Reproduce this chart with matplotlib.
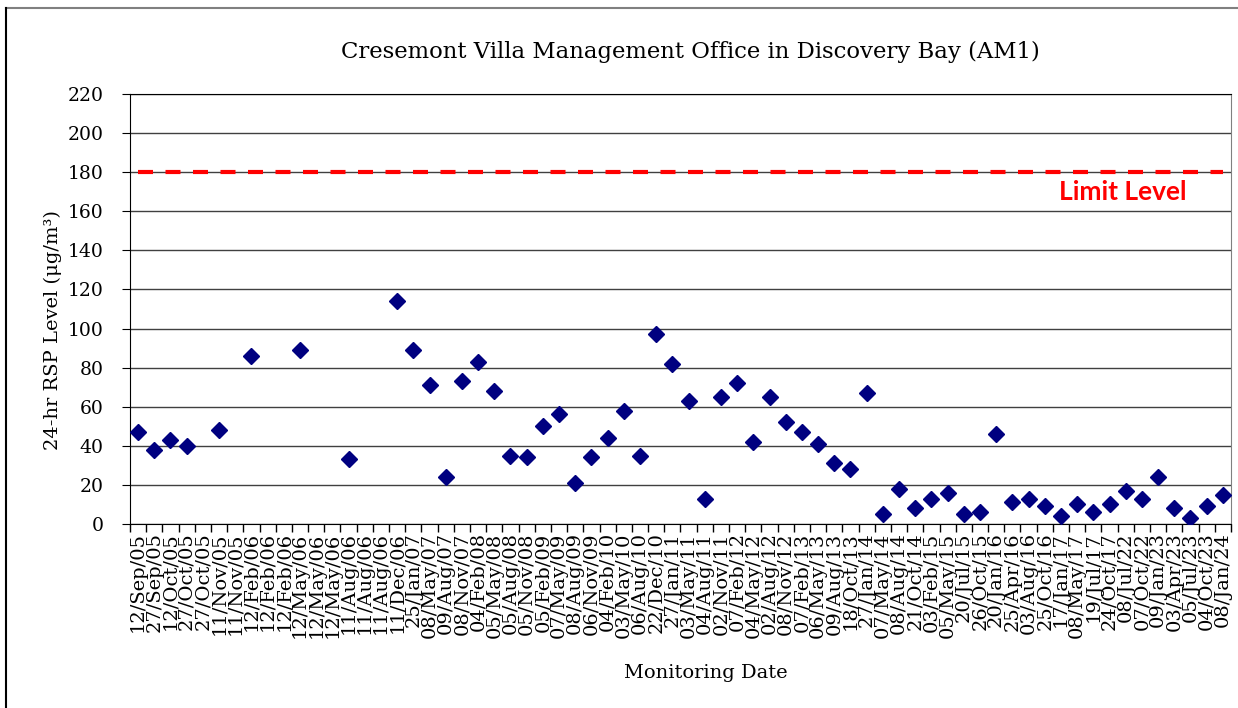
import matplotlib
matplotlib.use("Agg")
import matplotlib.pyplot as plt
import numpy as np

dates = ["12/Sep/05", "27/Sep/05", "12/Oct/05", "27/Oct/05", "27/Oct/05", "11/Nov/05", "11/Nov/05",
         "12/Feb/06", "12/Feb/06", "12/Feb/06", "12/May/06", "12/May/06", "12/May/06",
         "11/Aug/06", "11/Aug/06", "11/Aug/06", "11/Dec/06",
         "25/Jan/07", "08/May/07", "09/Aug/07", "08/Nov/07",
         "04/Feb/08", "05/May/08", "05/Aug/08", "05/Nov/08",
         "05/Feb/09", "07/May/09", "08/Aug/09", "06/Nov/09",
         "04/Feb/10", "03/May/10", "06/Aug/10", "22/Dec/10",
         "27/Jan/11", "03/May/11", "04/Aug/11", "02/Nov/11",
         "07/Feb/12", "04/May/12", "02/Aug/12", "08/Nov/12",
         "07/Feb/13", "06/May/13", "09/Aug/13", "18/Oct/13",
         "27/Jan/14", "07/May/14", "08/Aug/14", "21/Oct/14",
         "03/Feb/15", "05/May/15", "20/Jul/15", "26/Oct/15",
         "20/Jan/16", "25/Apr/16", "03/Aug/16", "25/Oct/16",
         "17/Jan/17", "08/May/17", "19/Jul/17", "24/Oct/17",
         "08/Jul/22", "07/Oct/22",
         "09/Jan/23", "03/Apr/23", "05/Jul/23", "04/Oct/23",
         "08/Jan/24"]

# nan = no measurement shown for that date
nan = np.nan
rsp = [47, 38, 43, 40, nan, 48, nan,
       86, nan, nan, 89, nan, nan,
       33, nan, nan, 114,
       89, 71, 24, 73,
       83, 68, 35, 34,
       50, 56, 21, 34,
       44, 58, 35, 97,
       82, 63, 13, 65,
       72, 42, 65, 52,
       47, 41, 31, 28,
       67, 5, 18, 8,
       13, 16, 5, 6,
       46, 11, 13, 9,
       4, 10, 6, 10,
       17, 13,
       24, 8, 3, 9,
       15]

limit = [180] * len(dates)

x = np.arange(len(dates))

fig = plt.figure(figsize=(12.38, 7.08), dpi=100)
ax = fig.add_axes([0.105, 0.26, 0.8893, 0.6072])

ax.plot(x, limit, color="red", lw=3, dashes=(3.6, 3), zorder=3)
ax.plot(x, rsp, "D", color="#000080", ms=8.5, ls="none", zorder=4)

ax.set_xlim(-0.5, len(dates) - 0.5)
ax.set_ylim(0, 220)
ax.set_yticks(np.arange(0, 221, 20))
ax.yaxis.grid(True, color="#404040", lw=1)
ax.set_axisbelow(True)

ax.set_xticks(x)
ax.set_xticklabels(dates, rotation=90, family="DejaVu Serif", fontsize=14, va="top")
ax.set_xticks(np.arange(len(dates) + 1) - 0.5, minor=True)
ax.tick_params(axis="x", which="major", length=0, pad=6)
ax.tick_params(axis="x", which="minor", length=6, direction="out", width=1)
ax.tick_params(axis="y", length=6, direction="out", labelsize=13.5, pad=13)
for lab in ax.get_yticklabels():
    lab.set_family("DejaVu Serif")

ax.spines["right"].set_color("#808080")
for s in ["left", "bottom", "top"]:
    ax.spines[s].set_color("black")

fig.text(0.043, 0.534, "24-hr RSP Level (μg/m³)", family="DejaVu Serif", fontsize=14,
         rotation=90, ha="center", va="center")
fig.text(0.57, 0.049, "Monitoring Date", family="DejaVu Serif", fontsize=14,
         ha="center", va="center")
fig.text(0.558, 0.926, "Cresemont Villa Management Office in Discovery Bay (AM1)",
         family="DejaVu Serif", fontsize=16.4, ha="center", va="center")

ax.text(0.96, 170, "Limit Level", transform=ax.get_yaxis_transform(), color="red",
        family="Lato", fontweight="bold", fontsize=19, ha="right", va="center")

# chart frame (only top and left edges visible in the source)
fig.add_artist(plt.Line2D([0.005, 1.0], [0.989, 0.989], color="#808080", lw=1.5))
fig.add_artist(plt.Line2D([0.005, 0.005], [0.0, 0.989], color="black", lw=1.5))

fig.savefig("out.png", dpi=100)
